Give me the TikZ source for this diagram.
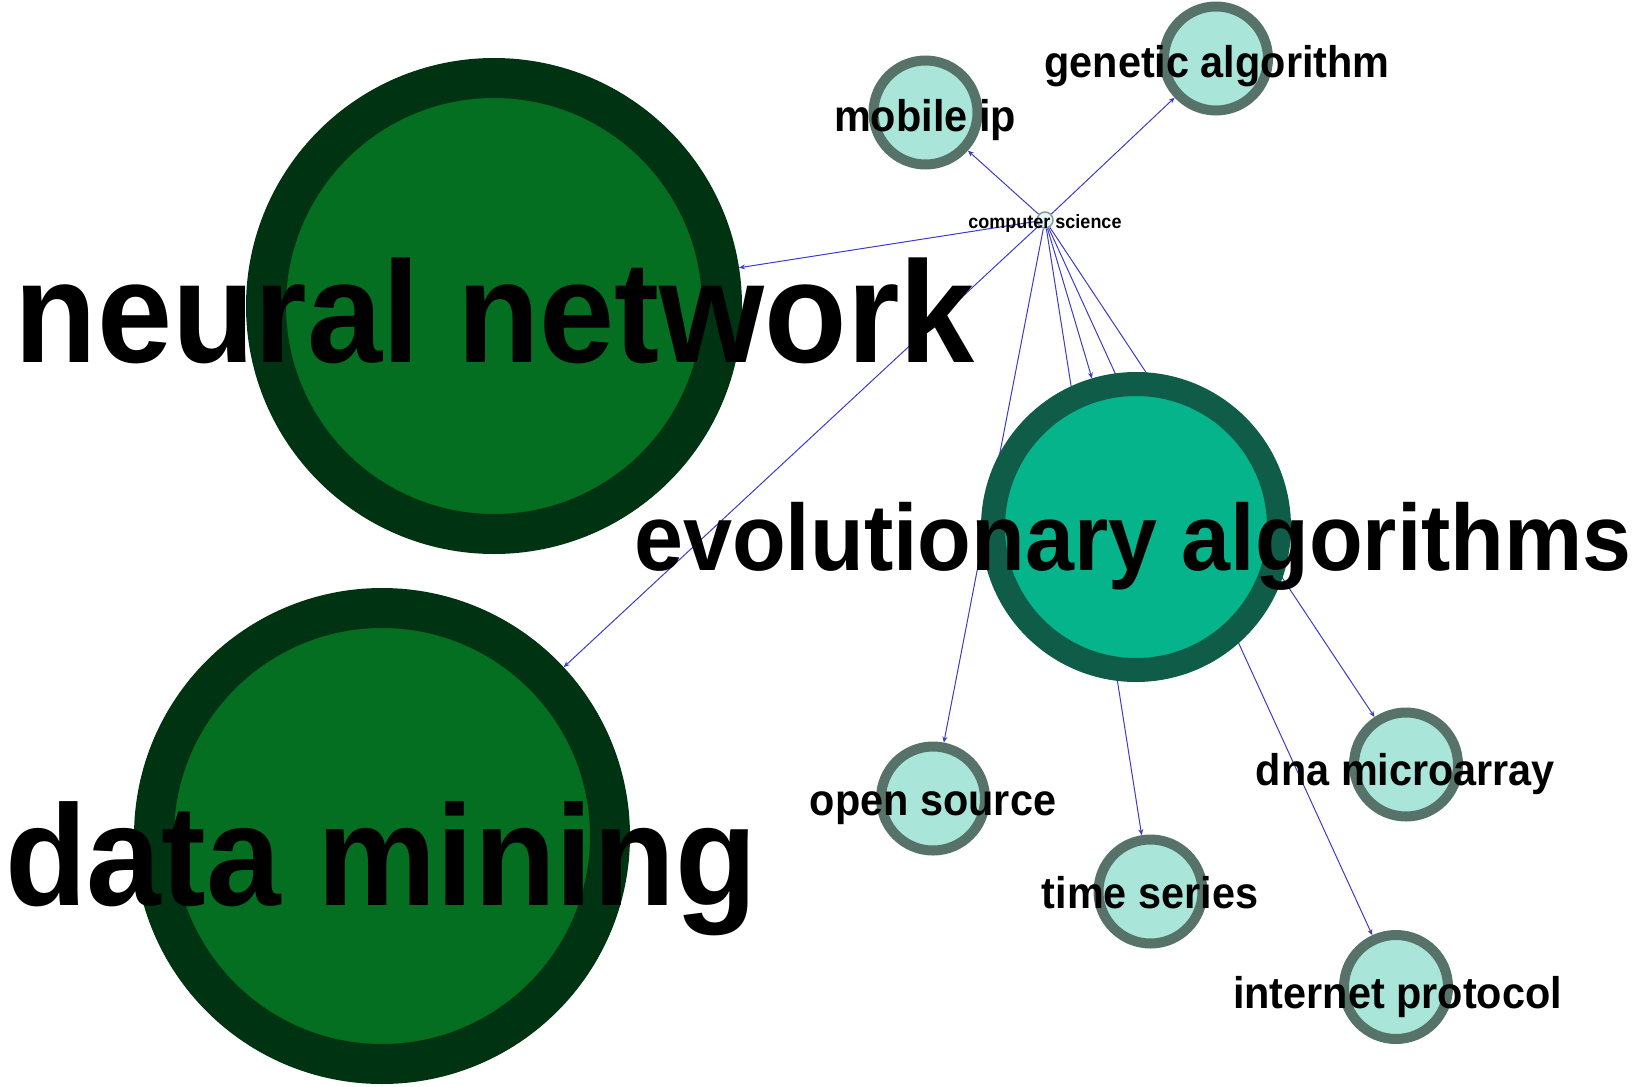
\documentclass[tikz,border=0pt]{standalone}
\usepackage{fontspec}
\setmainfont{Liberation Sans}
\usetikzlibrary{arrows.meta,backgrounds}
\definecolor{bigfill}{HTML}{046E21}
\definecolor{bigring}{HTML}{003311}
\definecolor{eafill}{HTML}{05B48A}
\definecolor{earing}{HTML}{0F5C48}
\definecolor{smfill}{HTML}{A9E5D9}
\definecolor{smring}{HTML}{577269}
\definecolor{csfill}{HTML}{E4F6F6}
\definecolor{csring}{HTML}{8A9A9A}
\definecolor{edgeblue}{HTML}{3C3CC8}
\newcommand{\lab}[2]{\fontsize{#1}{#1}\selectfont\scalebox{1}[1.07]{#2}}
\begin{document}
\begin{tikzpicture}[x=1pt,y=-1pt,
 bignode/.style={circle,inner sep=0pt,fill=bigfill,draw=bigring,line width=40pt,minimum size=456pt},
 eanode/.style={circle,inner sep=0pt,fill=eafill,draw=earing,line width=24pt,minimum size=286pt},
 smnode/.style={circle,inner sep=0pt,fill=smfill,draw=smring,line width=10pt,minimum size=104pt},
 csnode/.style={circle,inner sep=0pt,fill=csfill,draw=csring,line width=1.5pt,minimum size=16pt},
 edge/.style={draw=edgeblue,line width=1pt,-{Stealth[length=6pt,width=5pt]}},
 lbl/.style={inner sep=0pt,anchor=base,font=\bfseries,text=black},
]
\useasboundingbox (0,0) rectangle (1639,1087);
% circles
\node[bignode] (nn) at (494,306) {};
\node[bignode] (dm) at (382,836) {};
\node[eanode] (ea) at (1136,527) {};
\node[smnode] (mip) at (925.5,112.5) {};
\node[smnode] (ga) at (1216,58.5) {};
\node[smnode] (os) at (933,798.5) {};
\node[smnode] (ts) at (1150.5,891.5) {};
\node[smnode] (dna) at (1406,764.5) {};
\node[smnode] (ip) at (1396,987) {};
\node[csnode] (cs) at (1045,220) {};
% edges
\begin{scope}[on background layer]
\draw[edge] (cs) -- (mip);
\draw[edge] (cs) -- (ga);
\draw[edge] (cs) -- (nn);
\draw[edge] (cs) -- (dm);
\draw[edge] (cs) -- (os);
\draw[edge] (cs) -- (ea);
\draw[edge] (cs) -- (ts);
\draw[edge] (cs) -- (dna);
\draw[edge] (cs) -- (ip);
\end{scope}
% labels
\node[lbl] (nnL) at (495,362) {\lab{135}{neural network}};
\node[lbl] (dmL) at (381,905) {\lab{134}{data mining}};
\node[lbl] (eaL) at (1133,570) {\lab{88}{evolutionary algorithms}};
\node[lbl] (mipL) at (925,131) {\lab{41.4}{mobile ip}};
\node[lbl] (gaL) at (1217,77) {\lab{41.4}{genetic algorithm}};
\node[lbl] (csL) at (1045,228) {\lab{18}{computer science}};
\node[lbl] (osL) at (933,815) {\lab{41.4}{open source}};
\node[lbl] (tsL) at (1150,908) {\lab{41.4}{time series}};
\node[lbl] (dnaL) at (1405.5,785) {\lab{41.4}{dna microarray}};
\node[lbl] (ipL) at (1397.5,1008) {\lab{41.4}{internet protocol}};
\end{tikzpicture}
\end{document}
